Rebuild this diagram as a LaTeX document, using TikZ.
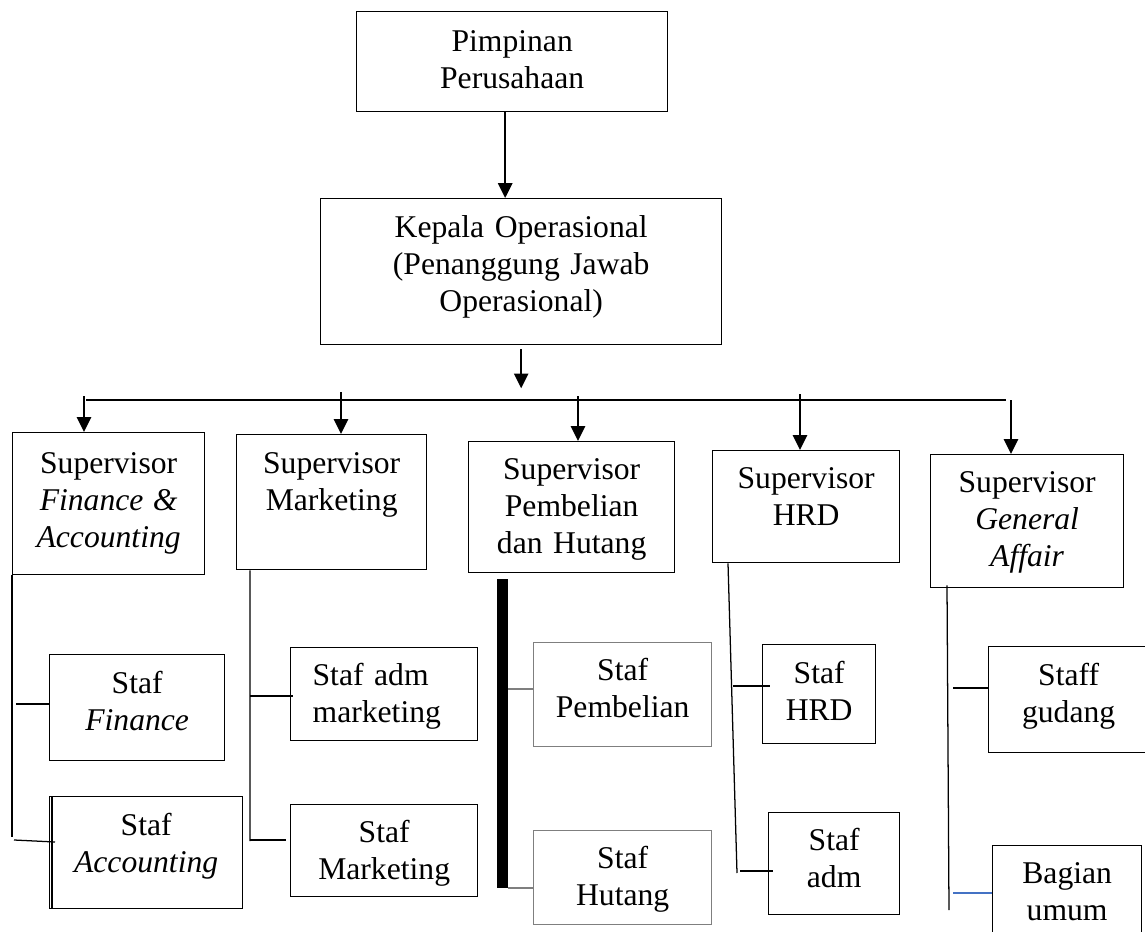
\documentclass[tikz,border=0pt]{standalone}
\usepackage{fontspec}
\setmainfont{Liberation Serif}
\usepackage{tikz}
\usetikzlibrary{arrows.meta,positioning}
\definecolor{linegray}{HTML}{7F7F7F}
\definecolor{lineblue}{HTML}{4472C4}

\begin{document}
\begin{tikzpicture}[x=0.025cm,y=-0.025cm,
  box/.style={draw,line width=0.9pt,anchor=north west,inner sep=0pt,align=center,font=\fontsize{22.5}{26.3}\selectfont},
  arr/.style={-{Triangle[length=10.5pt,width=10pt]},line width=1.6pt},
  link/.style={line width=0.9pt}]
\clip (0,0) rectangle (1145,932);
\node[box,text width=7.775cm,text height=1cm,text depth=1.5cm] (root) at (356,11) {Pimpinan\\Perusahaan};
\node[box,text width=10.025cm,text height=0.975cm,text depth=2.675cm] (kepala) at (320,198) {Kepala Operasional\\(Penanggung Jawab\\Operasional)};

\node[box,text width=4.8cm,text height=1.025cm,text depth=2.525cm] (sfa) at (12,432) {Supervisor\\\textit{Finance\hspace{0.3em}\&}\\\textit{Accounting}};
\node[box,text width=4.75cm,text height=0.975cm,text depth=2.4cm] (sm) at (236,434) {Supervisor\\Marketing};
\node[box,text width=5.15cm,text height=0.95cm,text depth=2.325cm] (sph) at (468,441) {Supervisor\\Pembelian\\dan Hutang};
\node[box,text width=4.675cm,text height=0.95cm,text depth=1.85cm] (shrd) at (712,450) {Supervisor\\HRD};
\node[box,text width=4.825cm,text height=0.95cm,text depth=2.375cm] (sga) at (930,454) {Supervisor\\\textit{General}\\\textit{Affair}};

\node[box,text width=4.375cm,text height=0.975cm,text depth=1.675cm] (sfin) at (49,654) {Staf\\\textit{Finance}};
\node[box,text width=4.825cm,text height=0.975cm,text depth=1.825cm] (sacc) at (49,796) {Staf\\\textit{Accounting}};
\node[box,align=left,inner xsep=0.55cm,text width=3.575cm,text height=0.95cm,text depth=1.375cm] (sadm) at (290,647) {Staf adm\\marketing};
\node[box,text width=4.675cm,text height=0.95cm,text depth=1.35cm] (smkt) at (290,804) {Staf\\Marketing};
\node[box,draw=linegray,text width=4.45cm,text height=0.95cm,text depth=1.65cm] (spem) at (533,642) {Staf\\Pembelian};
\node[box,draw=linegray,text width=4.45cm,text height=0.95cm,text depth=1.4cm] (shut) at (533,830) {Staf\\Hutang};
\node[box,text width=2.825cm,text height=0.975cm,text depth=1.5cm] (sthrd) at (762,644) {Staf\\HRD};
\node[box,text width=3.275cm,text height=0.95cm,text depth=1.6cm] (stadm) at (768,812) {Staf\\adm};
\node[box,text width=4.2cm,text height=0.975cm,text depth=1.675cm] (sgud) at (988,646) {\hspace*{-0.2cm}Staff\\\hspace*{-0.2cm}gudang};
\node[box,text width=3.725cm,text height=0.95cm,text depth=2.5cm] (sbag) at (992,845) {Bagian\\umum};

\draw[arr] ([xshift=-0.175cm]root.south) -- ([xshift=-0.175cm]root.south |- kepala.north);
\draw[arr] ([yshift=-0.1cm]kepala.south) -- ++(0,39);
\coordinate (busl) at (86,400);
\coordinate (busr) at (1006,400);
\draw[line width=1pt] (busl) -- (busr);
\foreach \x/\y/\n in {84/396/sfa,341/392/sm,578/396/sph,800/394/shrd,1011/400/sga}
  \draw[arr] (\x,\y) coordinate (top) -- (top |- \n.north);

\draw[link] ([xshift=0.075cm]sacc.north west) -- ([xshift=0.075cm]sacc.south west);

\coordinate (fabot) at (12,837);
\draw[link] (sfa.south west) -- (fabot);
\coordinate (fa1) at (16,704);
\draw[link] (fa1) -- (fa1 -| sfin.west);
\coordinate (fa2) at (14,840);
\draw[link] (fa2) -- ++(41,2);

\coordinate (mbot) at (250,841);
\draw[link] ([xshift=0.35cm]sm.south west) -- (mbot);
\coordinate (m1) at (250,696);
\draw[link] (m1) -- ++(43,0);
\coordinate (m2) at (250,840);
\draw[link] (m2) -- ++(36,0);

\coordinate (pbtop) at (502.5,579);
\coordinate (pbbot) at (502.5,888);
\draw[line width=7.8pt] (pbtop) -- (pbbot);
\coordinate (p1) at (508,689);
\draw[link,draw=linegray] (p1) -- (p1 -| spem.west);
\coordinate (p2) at (508,888);
\draw[link,draw=linegray] (p2) -- (p2 -| shut.west);

\coordinate (hbot) at (737,873);
\draw[link] ([xshift=0.4cm]shrd.south west) -- (hbot);
\coordinate (h1) at (733,686);
\draw[link] (h1) -- ++(37,0);
\coordinate (h2) at (740,871);
\draw[link] (h2) -- ++(33,0);

\coordinate (gbot) at (949,910);
\draw[link] ([xshift=0.425cm,yshift=0.075cm]sga.south west) -- (gbot);
\coordinate (g1) at (953,688);
\draw[line width=1.4pt] (g1) -- (g1 -| sgud.west);
\coordinate (g2) at (953,893);
\draw[link,draw=lineblue] (g2) -- (g2 -| sbag.west);
\end{tikzpicture}
\end{document}
